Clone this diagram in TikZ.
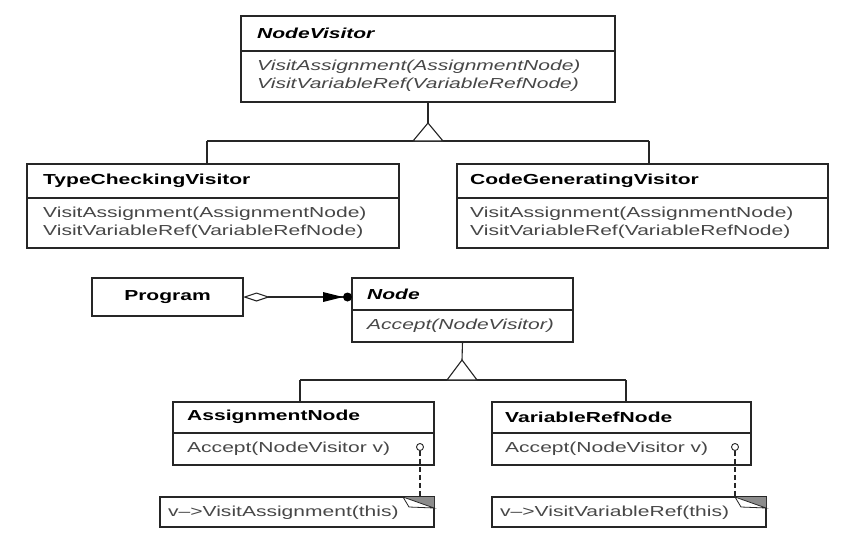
\documentclass[tikz,border=0pt]{standalone}
\usepackage{fontspec}
\setmainfont{Liberation Sans}
\usepackage{graphicx}
\usetikzlibrary{arrows.meta}
\newcommand\sx[1]{\scalebox{1.45}[1]{#1}}
\newcommand\fsz{\fontsize{14.5}{17.5}\selectfont}
\tikzset{
  box/.style={draw=black!85, line width=1.1pt, inner sep=0pt, outer sep=0pt, fill=white},
  ttl/.style={anchor=west, inner sep=0pt, text=black, font=\fsz\bfseries},
  ittl/.style={anchor=west, inner sep=0pt, text=black, font=\fsz\bfseries\itshape},
  mth/.style={anchor=west, inner sep=0pt, text=black!72, font=\fsz},
  imth/.style={anchor=west, inner sep=0pt, text=black!72, font=\fsz\itshape},
  conn/.style={draw=black!85, line width=1.1pt},
  gen/.style={draw=black!85, line width=1.1pt, fill=white, line join=miter},
  fold/.style={draw=black!85, line width=0.8pt},
}
\begin{document}
\begin{tikzpicture}[x=1pt, y=-1pt]
\useasboundingbox (0,0) rectangle (859,546);
\fill[white] (0,0) rectangle (859,546);

% NodeVisitor
\node[box, minimum width=374pt, minimum height=35pt] (nvt) at (428,33.5) {};
\node[box, minimum width=374pt, minimum height=51pt] (nvm) at (428,76.5) {};
\node[ittl] (nvtx) at (257,33) {\sx{NodeVisitor}};
\node[imth] (nvm1) at (257,67) {\sx{VisitAssignment(AssignmentNode)}};
\node[imth] (nvm2) at (257,85) {\sx{VisitVariableRef(VariableRefNode)}};

% TypeCheckingVisitor
\node[box, minimum width=372pt, minimum height=34pt] (tct) at (213,181) {};
\node[box, minimum width=372pt, minimum height=50pt] (tcm) at (213,223) {};
\node[ttl] (tctx) at (43,181) {\sx{TypeCheckingVisitor}};
\node[mth] (tcm1) at (43,214) {\sx{VisitAssignment(AssignmentNode)}};
\node[mth] (tcm2) at (43,232) {\sx{VisitVariableRef(VariableRefNode)}};

% CodeGeneratingVisitor
\node[box, minimum width=371pt, minimum height=34pt] (cgt) at (642.5,181) {};
\node[box, minimum width=371pt, minimum height=50pt] (cgm) at (642.5,223) {};
\node[ttl] (cgtx) at (470,181) {\sx{CodeGeneratingVisitor}};
\node[mth] (cgm1) at (470,214) {\sx{VisitAssignment(AssignmentNode)}};
\node[mth] (cgm2) at (470,232) {\sx{VisitVariableRef(VariableRefNode)}};

% generalization 1
\coordinate (apx1) at (428,123);
\coordinate (bl1) at (207,141);
\coordinate (br1) at (649,141);
\draw[conn] (nvm.south) -- (apx1);
\draw[conn] (bl1) -- (br1);
\draw[conn] (bl1) -- (bl1 |- tct.north);
\draw[conn] (br1) -- (br1 |- cgt.north);
\draw[gen] (apx1) -- (413,141) -- (443,141) -- cycle;

% Program
\node[box, minimum width=151pt, minimum height=38pt] (prog) at (167.5,297) {};
\node[font=\fsz\bfseries, inner sep=0pt] (progtx) at (167.5,297) {\sx{Program}};

% Node
\node[box, minimum width=221pt, minimum height=32pt] (ndt) at (462.5,294) {};
\node[box, minimum width=221pt, minimum height=32pt] (ndm) at (462.5,326) {};
\node[ittl] (ndtx) at (367,294) {\sx{Node}};
\node[imth] (ndm1) at (367,326) {\sx{Accept(NodeVisitor)}};

% aggregation
\coordinate (agg) at (ndt.west |- prog.east);
\draw[conn, {Diamond[open, length=27pt, width=9pt]}-] (prog.east) -- (agg);
\fill[black] (agg) ++(-4.5,0) circle (4.5pt);
\fill[black] (agg) ++(-9,0) -- ++(-20,-5) -- ++(0,10) -- cycle;

% AssignmentNode
\node[box, minimum width=261pt, minimum height=31pt] (ant) at (303.5,417.5) {};
\node[box, minimum width=261pt, minimum height=32pt] (anm) at (303.5,449) {};
\node[ttl] (antx) at (187,417) {\sx{AssignmentNode}};
\node[mth] (anm1) at (187,449) {\sx{Accept(NodeVisitor v)}};

% VariableRefNode
\node[box, minimum width=259pt, minimum height=31pt] (vrt) at (621.5,417.5) {};
\node[box, minimum width=259pt, minimum height=32pt] (vrm) at (621.5,449) {};
\node[ttl] (vrtx) at (505,417) {\sx{VariableRefNode}};
\node[mth] (vrm1) at (505,449) {\sx{Accept(NodeVisitor v)}};

% generalization 2
\coordinate (apx2) at (462,360);
\coordinate (bl2) at (300,380);
\coordinate (br2) at (626,380);
\draw[conn] (ndm.south) -- (apx2);
\draw[conn] (bl2) -- (br2);
\draw[conn] (bl2) -- (bl2 |- ant.north);
\draw[conn] (br2) -- (br2 |- vrt.north);
\draw[gen] (apx2) -- (447,380) -- (477,380) -- cycle;

% notes
\node[box, minimum width=274pt, minimum height=30pt] (n1) at (297,512) {};
\node[mth] (n1tx) at (168,513) {\sx{v--{>}VisitAssignment(this)}};
\node[box, minimum width=274pt, minimum height=30pt] (n2) at (629,512) {};
\node[mth] (n2tx) at (500,513) {\sx{v--{>}VisitVariableRef(this)}};

\fill[black!45] (403,497) -- (434,497) -- (434,508) -- cycle;
\draw[fold, fill=white] (403,497) -- (409,507) -- (434,508) -- cycle;
\fill[black!45] (735,497) -- (766,497) -- (766,508) -- cycle;
\draw[fold, fill=white] (735,497) -- (741,507) -- (766,508) -- cycle;

% implementation circles and dashed links
\node[draw=black!85, line width=0.9pt, circle, minimum size=7pt, inner sep=0pt, fill=white] (c1) at (420,447) {};
\node[draw=black!85, line width=0.9pt, circle, minimum size=7pt, inner sep=0pt, fill=white] (c2) at (735,447) {};
\draw[conn, dashed, dash pattern=on 5pt off 3pt] (c1.south) -- (c1.south |- n1.north);
\draw[conn, dashed, dash pattern=on 5pt off 3pt] (c2.south) -- (c2.south |- n2.north);
\end{tikzpicture}
\end{document}
